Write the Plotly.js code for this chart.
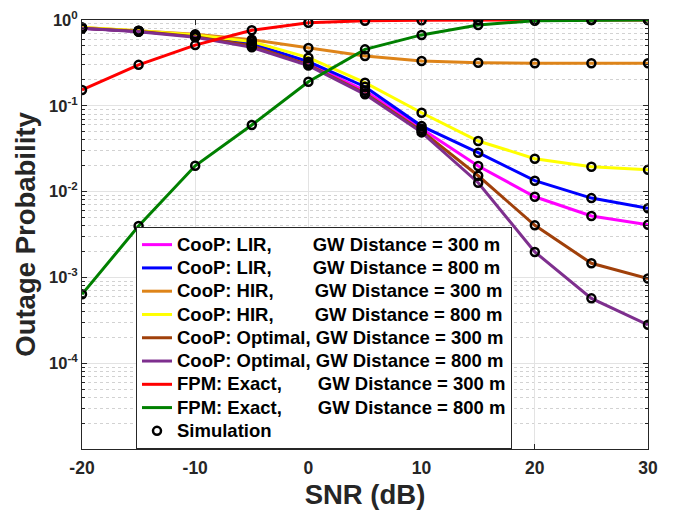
<!DOCTYPE html>
<html>
<head>
<meta charset="utf-8">
<script src="https://cdn.plot.ly/plotly-3.0.1.min.js"></script>
<style>html,body{margin:0;padding:0;background:#fff;}#chart{width:677px;height:510px;}</style>
</head>
<body>
<div id="chart"></div>
<script>
// SNR (dB)
var snr = [-20, -15, -10, -5, 0, 5, 10, 15, 20, 25, 30];

// Outage probability per scheme
var coopLIR300 = [0.80, 0.74, 0.65, 0.52, 0.31, 0.15, 0.054, 0.0199, 0.0087, 0.0052, 0.0041];
var coopLIR800 = [0.80, 0.74, 0.65, 0.53, 0.327, 0.167, 0.058, 0.0284, 0.0134, 0.0084, 0.0064];
var coopHIR300 = [0.82, 0.75, 0.68, 0.59, 0.472, 0.38, 0.333, 0.318, 0.313, 0.313, 0.313];
var coopHIR800 = [0.82, 0.75, 0.67, 0.56, 0.364, 0.186, 0.083, 0.0389, 0.0242, 0.0195, 0.018];
var coopOpt300 = [0.80, 0.74, 0.64, 0.50, 0.30, 0.14, 0.051, 0.0153, 0.00404, 0.00146, 0.00097];
var coopOpt800 = [0.80, 0.73, 0.63, 0.48, 0.294, 0.136, 0.049, 0.0127, 0.00198, 0.00057, 0.00028];
var fpm300     = [0.153, 0.30, 0.51, 0.76, 0.93, 0.98, 0.995, 1.0, 1.0, 1.0, 1.0];
var fpm800     = [0.000635, 0.00397, 0.020, 0.0597, 0.191, 0.455, 0.67, 0.875, 0.98, 1.0, 1.0];

// Legend labels
var nb = function (n) { return new Array(n + 1).join('\u00A0'); };
var seriesNames = [
  'CooP: LIR,' + nb(8) + 'GW Distance = 300 m',
  'CooP: LIR,' + nb(8) + 'GW Distance = 800 m',
  'CooP: HIR,' + nb(8) + 'GW Distance = 300 m',
  'CooP: HIR,' + nb(8) + 'GW Distance = 800 m',
  'CooP: Optimal, GW Distance = 300 m',
  'CooP: Optimal, GW Distance = 800 m',
  'FPM: Exact,' + nb(7) + 'GW Distance = 300 m',
  'FPM: Exact,' + nb(7) + 'GW Distance = 800 m'
];
var simName = 'Simulation';

// Tick labels
var xTickVals = [-20, -10, 0, 10, 20, 30];
var xTickText = ['-20', '-10', '0', '10', '20', '30'];
var yTickVals = [1e-4, 1e-3, 1e-2, 1e-1, 1];
var yTickText = ['10<sup>-4</sup>', '10<sup>-3</sup>', '10<sup>-2</sup>', '10<sup>-1</sup>', '10<sup>0</sup>'];

var seriesData = [coopLIR300, coopLIR800, coopHIR300, coopHIR800, coopOpt300, coopOpt800, fpm300, fpm800];
var seriesColors = ['#FF00FF', '#0000FF', '#DE8419', '#FFFF00', '#A0400A', '#7E2F8E', '#FF0000', '#008000'];

var big = function (s) { return '<span style="font-size:18.5px">' + s + '</span>'; };

var traces = seriesData.map(function (ys, i) {
  return {
    x: snr, y: ys, type: 'scatter', mode: 'lines',
    name: big(seriesNames[i]),
    line: {color: seriesColors[i], width: 3}
  };
});

var simX = [], simY = [];
seriesData.forEach(function (ys) { simX = simX.concat(snr); simY = simY.concat(ys); });
traces.push({
  x: simX, y: simY, type: 'scatter', mode: 'markers', name: big(simName),
  marker: {symbol: 'circle-open', color: '#000000', size: 8, line: {width: 2.5, color: '#000000'}}
});

// minor tick positions for log axis (2..9 per decade)
var minorVals = [];
for (var e = -5; e < 0; e++) { for (var m = 2; m <= 9; m++) { minorVals.push(m * Math.pow(10, e)); } }

var fontFam = '"Liberation Sans", Arial, Helvetica, sans-serif';
var layout = {
  width: 677, height: 510,
  margin: {l: 82, r: 29, t: 20, b: 61},
  paper_bgcolor: '#ffffff', plot_bgcolor: '#ffffff',
  font: {family: fontFam, color: '#262626', weight: 'bold', size: 15},
  showlegend: true,
  legend: {
    x: 0.0954, y: 0.5175, xanchor: 'left', yanchor: 'top',
    bgcolor: '#ffffff', bordercolor: '#262626', borderwidth: 1,
    font: {family: fontFam, size: 15.6, color: '#000000', weight: 'bold'},
    tracegroupgap: 0, itemwidth: 30
  },
  xaxis: {
    type: 'linear', range: [-20, 30], tickmode: 'array', tickvals: xTickVals, ticktext: xTickText,
    ticks: 'inside', ticklen: 5, tickcolor: '#262626', mirror: 'ticks',
    showline: true, linecolor: '#262626', linewidth: 1,
    showgrid: true, gridcolor: '#e3e3e3', gridwidth: 1, zeroline: false,
    tickfont: {family: fontFam, size: 17.5, color: '#262626', weight: 'bold'},
    ticklabelstandoff: 3,
    title: {text: 'SNR (dB)', font: {family: fontFam, size: 27.5, color: '#262626', weight: 'bold'}, standoff: 10}
  },
  yaxis: {
    type: 'log', range: [-5, 0], tickmode: 'array', tickvals: yTickVals, ticktext: yTickText,
    ticks: 'inside', ticklen: 5, tickcolor: '#262626', mirror: 'ticks',
    showline: true, linecolor: '#262626', linewidth: 1,
    showgrid: true, gridcolor: '#e3e3e3', gridwidth: 1, zeroline: false,
    tickfont: {family: fontFam, size: 16.5, color: '#262626', weight: 'bold'},
    minor: {tickmode: 'array', tickvals: minorVals, ticks: 'inside', ticklen: 3, tickcolor: '#262626',
            showgrid: true, gridcolor: '#d2d2d2', griddash: 'dot', gridwidth: 1},
    title: {text: 'Outage Probability', font: {family: fontFam, size: 27.5, color: '#262626', weight: 'bold'}, standoff: 5}
  }
};

Plotly.newPlot('chart', traces, layout, {displayModeBar: false, staticPlot: true});
</script>
</body>
</html>
